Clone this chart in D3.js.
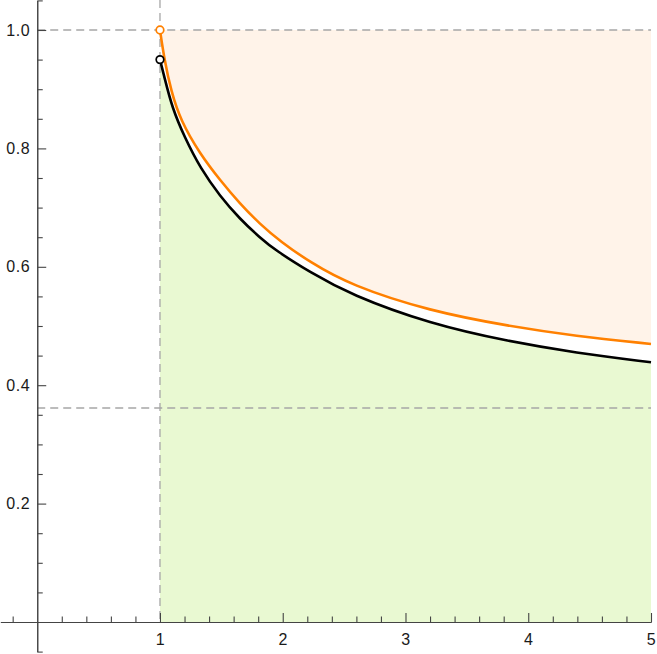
<!DOCTYPE html>
<html>
<head>
<meta charset="utf-8">
<script src="https://cdn.jsdelivr.net/npm/d3@7"></script>
<style>
  body { margin: 0; background: #fff; }
  svg { display: block; }
</style>
</head>
<body>
<svg width="657" height="654"></svg>
<script>
// curve readings (x, y)
var orangeX = [1.0, 1.035, 1.09, 1.17, 1.325, 1.49, 1.65, 1.815, 1.98, 2.22, 2.55, 3.2, 3.85, 4.38, 5.0];
var orangeY = [1.0, 0.951, 0.897, 0.846, 0.791, 0.746, 0.707, 0.672, 0.643, 0.608, 0.569, 0.525, 0.4995, 0.4832, 0.4696];

var blackX = [1.0, 1.035, 1.10, 1.2, 1.33, 1.49, 1.65, 1.815, 1.94, 2.22, 2.55, 3.2, 3.85, 4.38, 5.0];
var blackY = [0.95, 0.921, 0.868, 0.819, 0.766, 0.719, 0.681, 0.649, 0.628, 0.591, 0.553, 0.5034, 0.4735, 0.455, 0.4387];

// dashed guides
var guideX = [1];
var guideY = [1.0, 0.3615];

var xMajorTicks = [1, 2, 3, 4, 5];
var yMajorTicks = [0.2, 0.4, 0.6, 0.8, 1.0];

var svg = d3.select("svg");

var x = d3.scaleLinear().domain([-0.3, 5]).range([0.4, 651]);
var y = d3.scaleLinear().domain([-0.05, 1.05]).range([651.6, 0.4]);

var orange = orangeX.map(function(d, i) { return [d, orangeY[i]]; });
var black = blackX.map(function(d, i) { return [d, blackY[i]]; });

var smooth = d3.curveBasis;

// fills
svg.append("path")
    .datum(orange)
    .attr("fill", "#fff3e9")
    .attr("d", d3.area()
        .curve(smooth)
        .x(function(d) { return x(d[0]); })
        .y0(y(1))
        .y1(function(d) { return y(d[1]); }));

svg.append("path")
    .datum(black)
    .attr("fill", "#e9f9d2")
    .attr("d", d3.area()
        .curve(smooth)
        .x(function(d) { return x(d[0]); })
        .y0(y(0))
        .y1(function(d) { return y(d[1]); }));

// dashed guides
svg.selectAll(".gx").data(guideX).enter()
    .append("line")
    .attr("x1", function(d) { return x(d); })
    .attr("x2", function(d) { return x(d); })
    .attr("y1", 0)
    .attr("y2", y(0))
    .attr("stroke", "#a6a6a6")
    .attr("stroke-width", 1.3)
    .attr("stroke-dasharray", "8,5");

svg.selectAll(".gy").data(guideY).enter()
    .append("line")
    .attr("x1", x(0))
    .attr("x2", x(5))
    .attr("y1", function(d) { return y(d); })
    .attr("y2", function(d) { return y(d); })
    .attr("stroke", "#a6a6a6")
    .attr("stroke-width", 1.3)
    .attr("stroke-dasharray", "8,5");

// axes
var xMinor = d3.range(-1, 26).map(function(i) { return +(i * 0.2).toFixed(2); })
    .filter(function(v) { return v !== 0 && xMajorTicks.indexOf(v) < 0; });
var yMinor = d3.range(-1, 22).map(function(i) { return +(i * 0.05).toFixed(2); })
    .filter(function(v) { return v !== 0 && yMajorTicks.indexOf(v) < 0; });

var gx = svg.append("g").attr("transform", "translate(0," + y(0) + ")");
gx.call(d3.axisBottom(x).tickValues(xMajorTicks).tickSizeInner(-9).tickSizeOuter(0)
    .tickPadding(12).tickFormat(d3.format("d")));
gx.append("g").call(d3.axisBottom(x).tickValues(xMinor).tickSizeInner(-5.5).tickSizeOuter(0)
    .tickFormat(""));

var gy = svg.append("g").attr("transform", "translate(" + x(0) + ",0)");
gy.call(d3.axisLeft(y).tickValues(yMajorTicks).tickSizeInner(-9).tickSizeOuter(0)
    .tickPadding(7).tickFormat(d3.format(".1f")));
gy.append("g").call(d3.axisLeft(y).tickValues(yMinor).tickSizeInner(-5.5).tickSizeOuter(0)
    .tickFormat(""));

svg.selectAll(".domain, .tick line").attr("stroke", "#444").attr("stroke-width", 1.1);
svg.selectAll(".tick text")
    .attr("fill", "#1a1a1a")
    .attr("font-family", "'Liberation Sans', Arial, sans-serif")
    .attr("font-size", 16)
    .attr("letter-spacing", "0.6px");

// curves
var line = d3.line()
    .curve(smooth)
    .x(function(d) { return x(d[0]); })
    .y(function(d) { return y(d[1]); });

svg.append("path").datum(black)
    .attr("fill", "none").attr("stroke", "#000").attr("stroke-width", 2.6)
    .attr("d", line);
svg.append("path").datum(orange)
    .attr("fill", "none").attr("stroke", "#ff8000").attr("stroke-width", 2.6)
    .attr("d", line);

// open end points
svg.append("circle")
    .attr("cx", x(blackX[0])).attr("cy", y(blackY[0])).attr("r", 3.8)
    .attr("fill", "#fff").attr("stroke", "#000").attr("stroke-width", 1.7);
svg.append("circle")
    .attr("cx", x(orangeX[0])).attr("cy", y(orangeY[0])).attr("r", 3.8)
    .attr("fill", "#fff").attr("stroke", "#ff8000").attr("stroke-width", 1.7);
</script>
</body>
</html>
